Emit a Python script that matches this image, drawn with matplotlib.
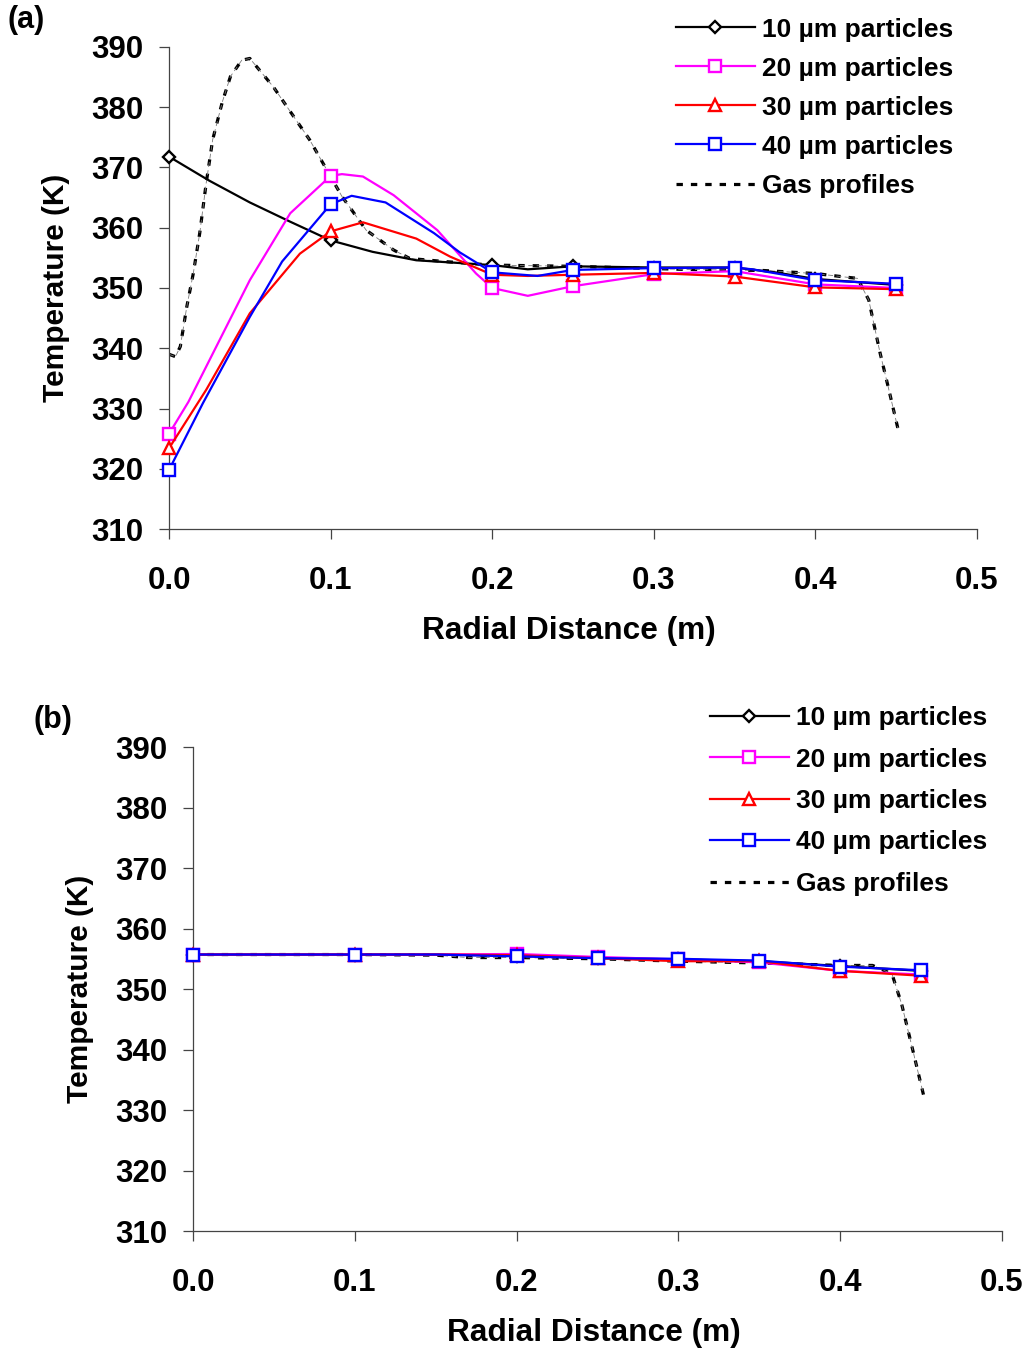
import numpy as np
import matplotlib.pyplot as plt

plt.rcParams['font.family'] = ['Liberation Sans', 'DejaVu Sans']
plt.rcParams['font.weight'] = 'bold'

# positions carrying a marker (m)
mark_x = [0.0, 0.1, 0.2, 0.25, 0.3, 0.35, 0.4, 0.45]

# (a) temperature profiles
x10a = [0, 0.025, 0.05, 0.075, 0.1, 0.126, 0.153, 0.2, 0.222, 0.25, 0.3, 0.35, 0.375, 0.4, 0.45]
t10a = [371.8, 367.8, 364.2, 361.0, 357.9, 356.0, 354.6, 353.8, 353.1, 353.6, 353.4, 353.4, 352.6, 351.5, 350.5]

x20a = [0, 0.012, 0.05, 0.075, 0.1, 0.107, 0.12, 0.139, 0.166, 0.19, 0.2, 0.222, 0.25, 0.3, 0.35, 0.4, 0.45]
t20a = [325.8, 331.1, 351.3, 362.4, 368.6, 368.9, 368.5, 365.4, 359.6, 352.4, 350.0, 348.7, 350.3, 352.3, 352.8, 350.6, 350.0]

x30a = [0, 0.023, 0.05, 0.081, 0.1, 0.12, 0.153, 0.174, 0.2, 0.222, 0.25, 0.3, 0.35, 0.4, 0.45]
t30a = [323.4, 333.1, 345.8, 355.7, 359.4, 360.9, 358.2, 355.2, 352.2, 352.0, 352.2, 352.5, 351.9, 350.1, 349.8]

x40a = [0, 0.021, 0.05, 0.07, 0.1, 0.113, 0.134, 0.164, 0.18, 0.2, 0.228, 0.25, 0.3, 0.35, 0.361, 0.4, 0.45]
t40a = [319.8, 330.9, 345.2, 354.4, 363.9, 365.3, 364.2, 359.1, 355.9, 352.6, 352.0, 353.0, 353.3, 353.4, 353.1, 351.3, 350.7]

xga = [0, 0.004, 0.007, 0.011, 0.015, 0.019, 0.023, 0.027, 0.033, 0.038, 0.045, 0.05,
       0.0645, 0.087, 0.107, 0.122, 0.139, 0.149, 0.17, 0.2, 0.25, 0.317, 0.368, 0.4,
       0.419, 0.426, 0.433, 0.44, 0.445, 0.451]
tga = [339.0, 338.6, 340.3, 346.9, 352.4, 359.1, 367.4, 374.6, 380.9, 385.1, 387.8, 388.1,
       383.4, 374.6, 365.2, 359.6, 356.3, 354.9, 354.4, 353.8, 353.6, 353.1, 352.9, 352.4,
       351.8, 351.6, 348.0, 339.2, 333.6, 326.7]

# (b) temperature profiles
xb = [0, 0.1, 0.15, 0.2, 0.25, 0.3, 0.35, 0.4, 0.45]
t10b = [355.7, 355.7, 355.7, 355.5, 355.1, 354.9, 354.6, 353.8, 353.0]
t20b = [355.7, 355.7, 355.7, 355.8, 355.3, 354.9, 354.4, 353.0, 352.4]
t30b = [355.7, 355.7, 355.7, 355.6, 355.1, 354.6, 354.6, 353.0, 352.2]
t40b = [355.7, 355.7, 355.7, 355.4, 355.1, 355.0, 354.7, 353.7, 353.1]

xgb = [0, 0.1, 0.15, 0.17, 0.2, 0.25, 0.3, 0.35, 0.4, 0.42, 0.432, 0.438, 0.4455, 0.4515]
tgb = [355.7, 355.7, 355.6, 355.2, 355.2, 355.0, 354.6, 354.3, 353.9, 353.9, 352.5, 347.5, 339.2, 332.5]

labels = ['10 µm particles', '20 µm particles', '30 µm particles', '40 µm particles', 'Gas profiles']
colors = ['black', '#FF00FF', '#FF0000', '#0000FF']
markers = ['D', 's', '^', 's']
msizes = [6.5, 9, 9, 9]


def marks(xs):
    return [i for i, v in enumerate(xs) if any(abs(v - m) < 1e-9 for m in mark_x)]


def panel(ax, series, xg, tg):
    for (xs, ts), c, mk, ms, lab in zip(series, colors, markers, msizes, labels):
        ax.plot(xs, ts, color=c, lw=1.6, marker=mk, ms=ms, mfc='white', mec=c, mew=1.7,
                markevery=marks(xs), label=lab, clip_on=False, zorder=3)
    ax.plot(xg, tg, color='black', lw=2.3, ls=(0, (2, 2.5)), label=labels[4])
    ax.plot(xg, tg, color='#777777', lw=0.6, ls=(0, (6, 4)))
    ax.set_xlim(0, 0.5)
    ax.set_ylim(310, 390)
    ax.set_xticks(np.arange(0, 0.51, 0.1))
    ax.set_xticklabels(['%.1f' % v for v in np.arange(0, 0.51, 0.1)])
    ax.set_yticks(np.arange(310, 391, 10))
    for s in ['top', 'right']:
        ax.spines[s].set_visible(False)
    for s in ['left', 'bottom']:
        ax.spines[s].set_color('#444444')
        ax.spines[s].set_linewidth(0.9)
    ax.tick_params(axis='both', direction='out', length=7.5, width=0.9, color='#444444',
                   labelsize=22.5)
    ax.tick_params(axis='x', pad=19)
    ax.tick_params(axis='y', pad=11)
    ax.set_xlabel('Radial Distance (m)', fontsize=22.8, fontweight='bold')
    ax.set_ylabel('Temperature (K)', fontsize=21.5, fontweight='bold')
    ax.xaxis.set_label_coords(0.495, -0.18)
    ax.yaxis.set_label_coords(-0.123, 0.5)


fig = plt.figure(figsize=(10.3, 13.54), dpi=100)
ax1 = fig.add_axes([0.1641, 0.6093, 0.7845, 0.356])
ax2 = fig.add_axes([0.1874, 0.0908, 0.7854, 0.3575])

panel(ax1, [(x10a, t10a), (x20a, t20a), (x30a, t30a), (x40a, t40a)], xga, tga)
panel(ax2, [(xb, t10b), (xb, t20b), (xb, t30b), (xb, t40b)], xgb, tgb)

ax1.legend(loc='upper left', bbox_to_anchor=(0.656, 0.987), bbox_transform=fig.transFigure,
           frameon=False, fontsize=19, handlelength=3.0, handletextpad=0.28,
           labelspacing=0.57, borderpad=0, borderaxespad=0)
ax2.legend(loc='upper left', bbox_to_anchor=(0.689, 0.4785), bbox_transform=fig.transFigure,
           frameon=False, fontsize=19, handlelength=3.0, handletextpad=0.28,
           labelspacing=0.66, borderpad=0, borderaxespad=0)

fig.text(0.007, 0.996, '(a)', fontsize=22, fontweight='bold', va='top')
fig.text(0.033, 0.479, '(b)', fontsize=22, fontweight='bold', va='top')

fig.savefig('out.png', dpi=100)
